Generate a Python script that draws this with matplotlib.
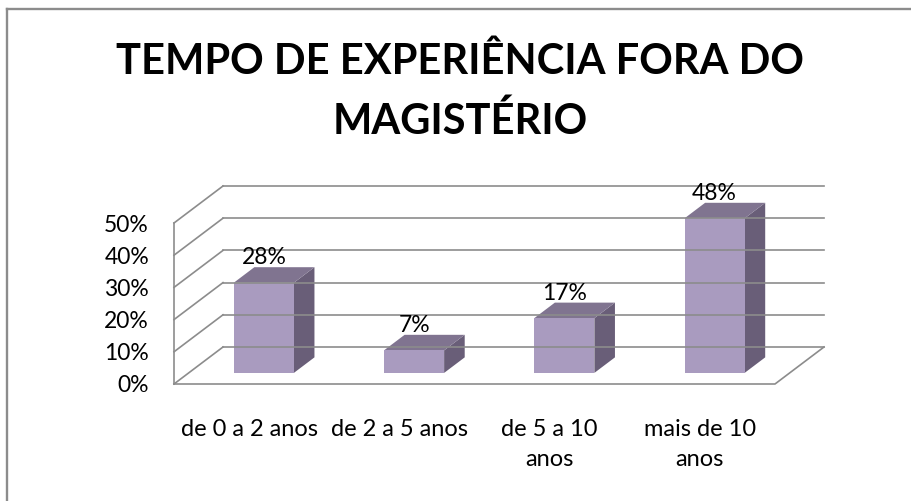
import matplotlib
matplotlib.use("Agg")
import matplotlib.pyplot as plt
from matplotlib.patches import Polygon
from matplotlib.lines import Line2D

# ---- data ----
categories = ["de 0 a 2 anos", "de 2 a 5 anos", "de 5 a 10\nanos", "mais de 10\nanos"]
values = [28, 7, 17, 48]
value_labels = ["28%", "7%", "17%", "48%"]
yticks = [0, 10, 20, 30, 40, 50]
ytick_labels = ["0%", "10%", "20%", "30%", "40%", "50%"]
title = "TEMPO DE EXPERIÊNCIA FORA DO\nMAGISTÉRIO"

# ---- styling ----
FONT = ["Lato", "DejaVu Sans"]
plt.rcParams["font.family"] = FONT
GRID = "#8C8C8C"
FRONT = "#A99BBF"
TOP = "#807490"
SIDE = "#695E78"

W, H = 912, 501
fig = plt.figure(figsize=(W / 100, H / 100), dpi=100)

# front plane of the pseudo-3D plot area (pixels)
x0, x1, yb, yt = 174, 775, 384, 223
ax = fig.add_axes([x0 / W, 1 - yb / H, (x1 - x0) / W, (yb - yt) / H])
ax.set_xlim(0, len(categories))
ax.set_ylim(yticks[0], yticks[-1])
ax.patch.set_alpha(0)
for s in ax.spines.values():
    s.set_visible(False)

# depth offset expressed in data units
px_per_x = (x1 - x0) / len(categories)
px_per_y = (yb - yt) / (yticks[-1] - yticks[0])
DX = 49 / px_per_x
DY = 37 / px_per_y


def P(x, y, d):
    return (x + d * DX, y + d * DY)


lw = 1.2
n = len(categories)
# back wall + left wall gridlines
for t in yticks:
    ax.add_line(Line2D(*zip(P(0, t, 1), P(n, t, 1)), color=GRID, lw=lw, clip_on=False))
    ax.add_line(Line2D(*zip(P(0, t, 0), P(0, t, 1)), color=GRID, lw=lw, clip_on=False))
# front vertical axis line
ax.add_line(Line2D(*zip(P(0, yticks[0], 0), P(0, yticks[-1], 0)), color=GRID, lw=lw, clip_on=False))
# floor front edge and right edge
ax.add_line(Line2D(*zip(P(0, 0, 0), P(n, 0, 0), P(n, 0, 1)), color=GRID, lw=lw, clip_on=False))

# bars
f0, f1, w = 0.30, 0.72, 0.40
for i, (v, lab) in enumerate(zip(values, value_labels)):
    c = i + 0.5
    l, r = c - w / 2, c + w / 2
    side = [P(r, 0, f0), P(r, 0, f1), P(r, v, f1), P(r, v, f0)]
    top = [P(l, v, f0), P(r, v, f0), P(r, v, f1), P(l, v, f1)]
    front = [P(l, 0, f0), P(r, 0, f0), P(r, v, f0), P(l, v, f0)]
    for poly, col in ((side, SIDE), (top, TOP), (front, FRONT)):
        ax.add_patch(Polygon(poly, closed=True, facecolor=col, edgecolor="none", clip_on=False))
    tx = P(c, v, f0)[0]
    ty = P(c, v, f1)[1] + 3 / px_per_y
    ax.text(tx, ty, lab, ha="center", va="baseline", fontsize=16.5, color="#000000", clip_on=False)

# axis tick labels
ax.set_yticks(yticks, ytick_labels)
ax.set_xticks([i + 0.5 for i in range(n)], categories)
ax.tick_params(axis="y", length=0, pad=18, labelsize=16.5)
ax.tick_params(axis="x", length=0, pad=25, labelsize=17)
for t in ax.get_xticklabels():
    t.set_linespacing(1.55)

# title
fig.text(460 / W, 1 - 92 / H, title, ha="center", va="center", fontsize=30,
         fontweight="bold", linespacing=1.62, color="#000000")

# outer chart border (cropped at right/bottom)
fig.add_artist(Line2D([7.2, 7.2], [0, H - 9.2], transform=None, color=GRID, lw=1.7))
fig.add_artist(Line2D([7.2, W], [H - 9.2, H - 9.2], transform=None, color=GRID, lw=1.7))

fig.savefig("out.png", dpi=100, facecolor="white")
